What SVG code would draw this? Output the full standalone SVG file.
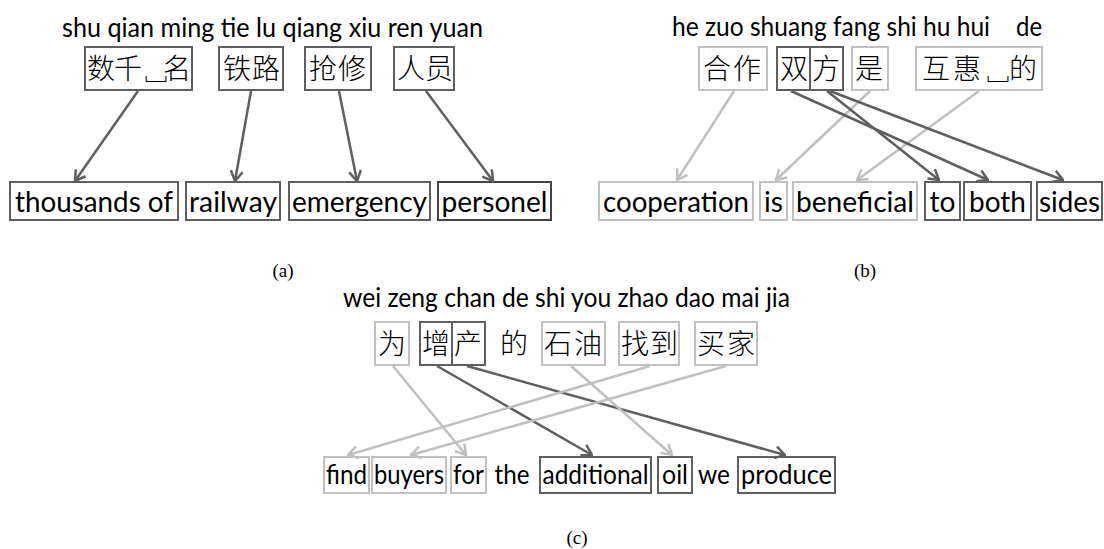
<svg xmlns="http://www.w3.org/2000/svg" width="1104" height="549" viewBox="0 0 1104 549">
<style>
.bg{fill:#ffffff}
.pin{font-family:Lato,"Liberation Sans",sans-serif;font-size:26px;fill:#000}
.zh{font-family:"Noto Sans CJK SC",sans-serif;font-size:28px;font-weight:300;fill:#000}
.en{font-family:Lato,"Liberation Sans",sans-serif;font-size:29px;fill:#000;text-anchor:middle}
.enc{font-family:Lato,"Liberation Sans",sans-serif;font-size:26px;fill:#000;text-anchor:middle}
.cap{font-family:"Liberation Serif",serif;font-size:19px;fill:#000;text-anchor:middle}
.bd{fill:#fff;stroke:#5f5f5f;stroke-width:2}
.bl{fill:#fff;stroke:#c0c0c0;stroke-width:2}
.ld{stroke:#5f5f5f;stroke-width:2.5;fill:none;marker-end:url(#ad)}
.ll{stroke:#c0c0c0;stroke-width:2.5;fill:none;marker-end:url(#al)}
</style>
<defs>
<marker id="ad" markerUnits="userSpaceOnUse" viewBox="0 0 12 14" markerWidth="12" markerHeight="14" refX="11" refY="7" orient="auto">
<path d="M1,1 L11,7 L1,13" fill="none" stroke="#5f5f5f" stroke-width="2.5"/>
</marker>
<marker id="al" markerUnits="userSpaceOnUse" viewBox="0 0 12 14" markerWidth="12" markerHeight="14" refX="11" refY="7" orient="auto">
<path d="M1,1 L11,7 L1,13" fill="none" stroke="#c0c0c0" stroke-width="2.5"/>
</marker>
</defs>
<rect class="bg" x="0" y="0" width="1104" height="549"/>

<!-- Panel (a) -->
<g id="a-pinyin"><text class="pin" x="62" y="37" textLength="421" lengthAdjust="spacingAndGlyphs">shu qian ming tie lu qiang xiu ren yuan</text></g>
<g id="a-src1"><rect class="bd" x="85" y="47" width="107" height="43"/><text class="zh" x="87 114 142 163" y="79" font-size="27">数千␣名</text></g>
<g id="a-src2"><rect class="bd" x="219" y="47" width="64" height="43"/><text class="zh" x="223 252" y="79">铁路</text></g>
<g id="a-src3"><rect class="bd" x="305" y="47" width="66" height="43"/><text class="zh" x="309 338" y="79">抢修</text></g>
<g id="a-src4"><rect class="bd" x="394" y="47" width="60" height="43"/><text class="zh" x="397 425" y="79">人员</text></g>
<g id="a-tgt1"><rect class="bd" x="10" y="182" width="168" height="38"/><text class="en" x="94" y="212" textLength="158" lengthAdjust="spacingAndGlyphs">thousands of</text></g>
<g id="a-tgt2"><rect class="bd" x="186" y="182" width="94" height="38"/><text class="en" x="233" y="212" textLength="88" lengthAdjust="spacingAndGlyphs">railway</text></g>
<g id="a-tgt3"><rect class="bd" x="289" y="182" width="141" height="38"/><text class="en" x="359.5" y="212" textLength="135" lengthAdjust="spacingAndGlyphs">emergency</text></g>
<g id="a-tgt4"><rect class="bd" x="438" y="182" width="113" height="38" style="stroke:#444"/><text class="en" x="494.5" y="212" textLength="106" lengthAdjust="spacingAndGlyphs">personel</text></g>
<g id="a-caption"><text class="cap" x="283" y="277">(a)</text></g>

<!-- Panel (b) -->
<g id="b-pinyin"><text class="pin" x="672" y="36" textLength="318" lengthAdjust="spacingAndGlyphs">he zuo shuang fang shi hu hui</text><text class="pin" x="1016" y="36" textLength="26" lengthAdjust="spacingAndGlyphs">de</text></g>
<g id="b-src1"><rect class="bl" x="699" y="47" width="68" height="43"/><text class="zh" x="703 733" y="79" font-size="29">合作</text></g>
<g id="b-src2"><rect class="bd" x="777" y="47" width="66" height="43"/><line x1="810" y1="47" x2="810" y2="90" stroke="#5f5f5f" stroke-width="2"/><text class="zh" x="780 812" y="79" font-size="29">双方</text></g>
<g id="b-src3"><rect class="bl" x="852" y="47" width="36" height="43"/><text class="zh" x="855" y="79" font-size="29">是</text></g>
<g id="b-src4"><rect class="bl" x="916" y="47" width="126" height="43"/><text class="zh" x="922 953 984 1009" y="79" font-size="29">互惠␣的</text></g>
<g id="b-tgt1"><rect class="bl" x="599" y="182" width="154" height="38"/><text class="en" x="676" y="212" textLength="146" lengthAdjust="spacingAndGlyphs">cooperation</text></g>
<g id="b-tgt2"><rect class="bl" x="760" y="182" width="27" height="38"/><text class="en" x="773.5" y="212" textLength="19" lengthAdjust="spacingAndGlyphs">is</text></g>
<g id="b-tgt3"><rect class="bl" x="793" y="182" width="124" height="38"/><text class="en" x="855" y="212" textLength="118" lengthAdjust="spacingAndGlyphs">beneficial</text></g>
<g id="b-tgt4"><rect class="bd" x="925" y="182" width="35" height="38"/><text class="en" x="942.5" y="212" textLength="26" lengthAdjust="spacingAndGlyphs">to</text></g>
<g id="b-tgt5"><rect class="bd" x="964" y="182" width="67" height="38"/><text class="en" x="997.5" y="212" textLength="57" lengthAdjust="spacingAndGlyphs">both</text></g>
<g id="b-tgt6"><rect class="bd" x="1037" y="182" width="65" height="38"/><text class="en" x="1069.5" y="212" textLength="61" lengthAdjust="spacingAndGlyphs">sides</text></g>
<g id="b-caption"><text class="cap" x="865" y="277">(b)</text></g>

<!-- Panel (c) -->
<g id="c-pinyin"><text class="pin" x="343" y="307" textLength="447" lengthAdjust="spacingAndGlyphs">wei zeng chan de shi you zhao dao mai jia</text></g>
<g id="c-src1"><rect class="bl" x="375" y="322" width="34" height="43"/><text class="zh" x="378" y="354" font-size="29">为</text></g>
<g id="c-src2"><rect class="bd" x="420" y="322" width="65" height="43"/><line x1="452" y1="322" x2="452" y2="365" stroke="#5f5f5f" stroke-width="2"/><text class="zh" x="422 454" y="354" font-size="29">增产</text></g>
<g id="c-src3"><text class="zh" x="500" y="354" font-size="29">的</text></g>
<g id="c-src4"><rect class="bl" x="542" y="322" width="63" height="43"/><text class="zh" x="544 574" y="354" font-size="29">石油</text></g>
<g id="c-src5"><rect class="bl" x="619" y="322" width="60" height="43"/><text class="zh" x="621 650" y="354" font-size="29">找到</text></g>
<g id="c-src6"><rect class="bl" x="695" y="322" width="62" height="43"/><text class="zh" x="697 727" y="354" font-size="29">买家</text></g>
<g id="c-tgt1"><rect class="bl" x="324" y="457" width="45" height="36"/><text class="enc" x="346.5" y="484" textLength="41" lengthAdjust="spacingAndGlyphs">find</text></g>
<g id="c-tgt2"><rect class="bl" x="372" y="457" width="74" height="36"/><text class="enc" x="409" y="484" textLength="70" lengthAdjust="spacingAndGlyphs">buyers</text></g>
<g id="c-tgt3"><rect class="bl" x="451" y="457" width="35" height="36"/><text class="enc" x="468.5" y="484" textLength="31" lengthAdjust="spacingAndGlyphs">for</text></g>
<g id="c-tgt4"><text class="enc" x="512" y="484" textLength="35" lengthAdjust="spacingAndGlyphs">the</text></g>
<g id="c-tgt5"><rect class="bd" x="540" y="457" width="111" height="36"/><text class="enc" x="595.5" y="484" textLength="106" lengthAdjust="spacingAndGlyphs">additional</text></g>
<g id="c-tgt6"><rect class="bd" x="658" y="457" width="34" height="36"/><text class="enc" x="675" y="484" textLength="26" lengthAdjust="spacingAndGlyphs">oil</text></g>
<g id="c-tgt7"><text class="enc" x="714" y="484" textLength="32" lengthAdjust="spacingAndGlyphs">we</text></g>
<g id="c-tgt8"><rect class="bd" x="738" y="457" width="97" height="36"/><text class="enc" x="786.5" y="484" textLength="91" lengthAdjust="spacingAndGlyphs">produce</text></g>
<g id="c-caption"><text class="cap" x="577" y="544">(c)</text></g>

<g id="connectors">
<line class="ld" x1="138" y1="91" x2="75" y2="181"/>
<line class="ld" x1="251" y1="91" x2="235" y2="181"/>
<line class="ld" x1="339" y1="91" x2="357" y2="181"/>
<line class="ld" x1="426" y1="91" x2="493" y2="181"/>
<line class="ll" x1="734" y1="91" x2="677" y2="180"/>
<line class="ll" x1="870" y1="91" x2="776" y2="180"/>
<line class="ll" x1="979" y1="91" x2="857" y2="180"/>
<line class="ld" x1="791" y1="91" x2="988" y2="180"/>
<line class="ld" x1="827" y1="91" x2="939" y2="180"/>
<line class="ld" x1="830" y1="91" x2="1063" y2="180"/>
<line class="ll" x1="393" y1="366" x2="466" y2="455"/>
<line class="ld" x1="437" y1="366" x2="592" y2="455"/>
<line class="ld" x1="467" y1="366" x2="785" y2="455"/>
<line class="ll" x1="571" y1="366" x2="672" y2="455"/>
<line class="ll" x1="650" y1="366" x2="348" y2="455"/>
<line class="ll" x1="726" y1="366" x2="411" y2="455"/>
</g>
</svg>
